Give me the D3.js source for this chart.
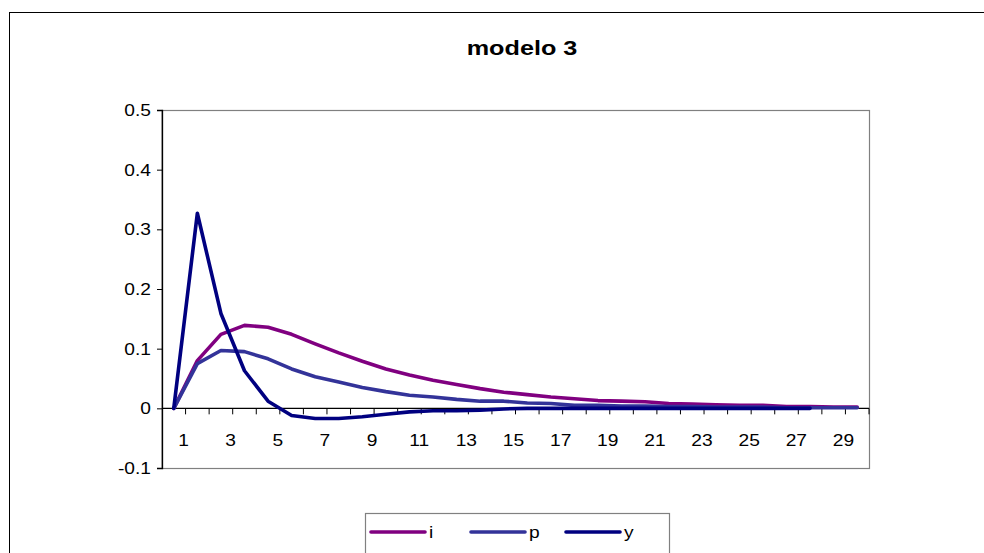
<!DOCTYPE html>
<html>
<head>
<meta charset="utf-8">
<script src="https://cdn.jsdelivr.net/npm/d3@7/dist/d3.min.js"></script>
<style>
  html, body { margin: 0; padding: 0; background: #fff; }
  svg { display: block; }
  text { font-family: "Liberation Sans", Arial, sans-serif; }
</style>
</head>
<body>
<svg id="chart" width="984" height="553"></svg>
<script>
const title = "modelo 3";
const periods = d3.range(1, 31);
const seriesNames = ["i", "p", "y"];
const seriesColors = ["#800080", "#333399", "#000080"];
const iValues = [0, 0.080, 0.124, 0.139, 0.136, 0.124, 0.108, 0.093, 0.079, 0.066,
                 0.056, 0.047, 0.040, 0.033, 0.027, 0.023, 0.019, 0.016, 0.013, 0.012,
                 0.011, 0.008, 0.007, 0.006, 0.005, 0.005, 0.003, 0.003, 0.002, 0.002];
const pValues = [0, 0.075, 0.097, 0.095, 0.083, 0.066, 0.053, 0.044, 0.035, 0.028,
                 0.022, 0.019, 0.015, 0.012, 0.012, 0.009, 0.008, 0.005, 0.005, 0.004,
                 0.004, 0.003, 0.003, 0.002, 0.002, 0.002, 0.001, 0.001, 0.001, 0.001];
const yValues = [0, 0.327, 0.159, 0.063, 0.012, -0.012, -0.017, -0.017, -0.014, -0.010,
                 -0.006, -0.004, -0.004, -0.003, -0.001, 0, 0, 0, 0, 0,
                 0, 0, 0, 0, 0, 0, 0, 0];
const yTicks = [-0.1, 0, 0.1, 0.2, 0.3, 0.4, 0.5];
const yTickLabels = ["-0.1", "0", "0.1", "0.2", "0.3", "0.4", "0.5"];
const xTickLabels = d3.range(1, 30, 2);

const allSeries = [iValues, pValues, yValues];
const svg = d3.select("#chart");
const SX = 1.13;

// outer frame
svg.append("rect").attr("x", 9.5).attr("y", 12.5).attr("width", 1000).attr("height", 600)
  .attr("fill", "#fff").attr("stroke", "#000").attr("stroke-width", 1);

const L = 162, R = 869, T = 110, B = 468;
const x = d3.scaleBand().domain(periods).range([L, R]).paddingInner(0).paddingOuter(0);
const y = d3.scaleLinear().domain([-0.1, 0.5]).range([B, T]);
const cx = d => x(d) + x.bandwidth() / 2;

// plot area border (gray)
svg.append("rect").attr("x", L).attr("y", T + 0.5).attr("width", R - L + 0.5).attr("height", B - T)
  .attr("fill", "none").attr("stroke", "#808080").attr("stroke-width", 1.2);

// y axis
const yAxis = d3.axisLeft(y).tickValues(yTicks).tickSize(5).tickPadding(0)
  .tickFormat((d, k) => yTickLabels[k]);
const gy = svg.append("g").attr("transform", `translate(${L},0)`).call(yAxis);
gy.select(".domain").attr("stroke", "#000").attr("stroke-width", 1.3);
gy.selectAll(".tick line").attr("stroke", "#000");
gy.selectAll(".tick text").attr("font-size", 17).attr("fill", "#000").attr("x", 0)
  .attr("font-family", "Liberation Sans, Arial, sans-serif")
  .attr("transform", `translate(-11,0) scale(${SX},1)`);

// x axis at zero, ticks at category boundaries
const x0 = y(0);
const gx = svg.append("g");
gx.append("line").attr("x1", L).attr("x2", R).attr("y1", x0).attr("y2", x0)
  .attr("stroke", "#000").attr("stroke-width", 1.3);
gx.selectAll("line.tk").data(periods).join("line").attr("class", "tk")
  .attr("x1", d => x(d) + x.bandwidth()).attr("x2", d => x(d) + x.bandwidth())
  .attr("y1", x0).attr("y2", x0 + 6).attr("stroke", "#000").attr("stroke-width", 1);
gx.selectAll("text.lb").data(xTickLabels).join("text").attr("class", "lb")
  .attr("transform", d => `translate(${x(d) + x.bandwidth() - 2},${x0 + 38}) scale(${SX},1)`)
  .attr("text-anchor", "middle").attr("font-size", 17).attr("fill", "#000")
  .text(d => d);

// lines
const line = d3.line().x((d, k) => cx(periods[k])).y(d => y(d));
allSeries.forEach((vals, s) => {
  svg.append("path").datum(vals).attr("d", line)
    .attr("fill", "none").attr("stroke", seriesColors[s]).attr("stroke-width", 3.6)
    .attr("stroke-linejoin", "round").attr("stroke-linecap", "round");
});

// title
svg.append("text").attr("transform", `translate(522,55) scale(1.2,1)`).attr("text-anchor", "middle")
  .attr("font-size", 21).attr("font-weight", "bold").attr("fill", "#000").text(title);

// legend
const lg = svg.append("g");
lg.append("rect").attr("x", 365.5).attr("y", 513.5).attr("width", 304).attr("height", 60)
  .attr("fill", "#fff").attr("stroke", "#808080").attr("stroke-width", 1.2);
const legX = [371, 471, 566];
seriesNames.forEach((n, s) => {
  lg.append("line").attr("x1", legX[s]).attr("x2", legX[s] + 54).attr("y1", 532).attr("y2", 532)
    .attr("stroke", seriesColors[s]).attr("stroke-width", 3.6).attr("stroke-linecap", "round");
  lg.append("text").attr("transform", `translate(${legX[s] + 58},538) scale(${SX},1)`)
    .attr("font-size", 17).attr("fill", "#000").text(n);
});
</script>
</body>
</html>
